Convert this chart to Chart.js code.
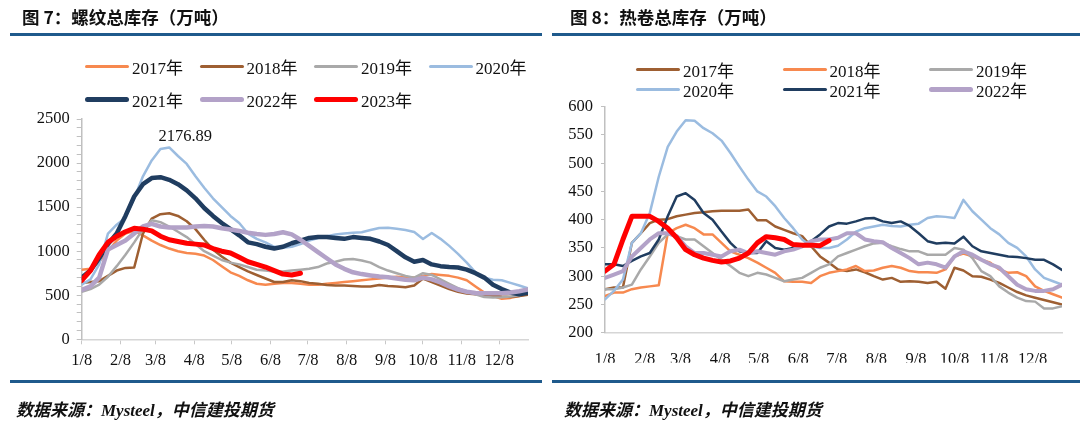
<!DOCTYPE html>
<html>
<head>
<meta charset="utf-8">
<script src="https://cdn.jsdelivr.net/npm/chart.js@4.4.0/dist/chart.umd.min.js"></script>
<style>
  body { margin: 0; background: #fff; }
  #wrap { position: relative; width: 1080px; height: 422px; overflow: hidden;
          font-family: "Liberation Serif", "Noto Sans CJK SC", serif; color: #111; }
  canvas { position: absolute; top: 0; }
  .title { position: absolute; top: 4px; font: bold 17.5px "Noto Sans CJK SC", sans-serif; color: #111; }
  .rule { position: absolute; height: 3px; background: #1f5a8c; }
  .src { position: absolute; top: 396px; font: italic bold 17px "Liberation Serif", "Noto Sans CJK SC", serif; }
  .leg { position: absolute; height: 20px; display: flex; align-items: center; font-size: 17px; white-space: nowrap; }
  .leg i { display: inline-block; width: 44px; border-radius: 3px; margin-right: 3px; }
</style>
</head>
<body>
<div id="wrap">
  <canvas id="rebar" width="540" height="422" style="left:0"></canvas>
  <canvas id="coil" width="540" height="422" style="left:540px"></canvas>
  <div class="title" style="left:22px">图 7：螺纹总库存（万吨）</div>
  <div class="title" style="left:570px">图 8：热卷总库存（万吨）</div>
  <div class="rule" style="left:10px;top:33px;width:532px"></div>
  <div class="rule" style="left:552px;top:33px;width:528px"></div>
  <div class="rule" style="left:10px;top:380px;width:532px"></div>
  <div class="rule" style="left:552px;top:380px;width:528px"></div>
  <div class="src" style="left:16px">数据来源：Mysteel，中信建投期货</div>
  <div class="src" style="left:564px">数据来源：Mysteel，中信建投期货</div>
</div>
<script>
// x axis: days after Jan 8, weekly points; month ticks on the 8th
const tickDays = [0, 31, 59, 90, 120, 151, 181, 212, 243, 273, 304, 334];
const tickLabels = ['1/8', '2/8', '3/8', '4/8', '5/8', '6/8', '7/8', '8/8', '9/8', '10/8', '11/8', '12/8'];
const years = ['2017年', '2018年', '2019年', '2020年', '2021年', '2022年', '2023年'];

// 螺纹总库存 (万吨)
const rebar2017 = [790, 800, 880, 1000, 1120, 1200, 1230, 1180, 1120, 1070, 1030, 1000, 980, 970, 950, 900, 830, 760, 720, 670, 630, 620, 630, 640, 640, 630, 620, 620, 630, 640, 650, 660, 670, 680, 690, 700, 710, 700, 700, 720, 740, 730, 720, 700, 670, 600, 530, 490, 460, 470, 490, 515];
const rebar2018 = [640, 650, 660, 720, 780, 810, 815, 1200, 1370, 1420, 1430, 1400, 1340, 1250, 1130, 1020, 940, 870, 820, 770, 730, 690, 650, 650, 670, 660, 640, 630, 615, 610, 610, 605, 600, 598, 615, 605, 600, 590, 610, 690, 650, 610, 570, 540, 520, 510, 505, 495, 485, 480, 490, 505];
const rebar2019 = [540, 570, 620, 710, 830, 960, 1100, 1250, 1350, 1330, 1280, 1220, 1160, 1080, 1000, 950, 900, 870, 850, 820, 790, 780, 770, 770, 780, 790, 800, 820, 860, 880, 905, 910, 895, 870, 820, 780, 750, 720, 700, 750, 730, 680, 630, 580, 540, 510, 480, 475, 478, 485, 500, 535];
const rebar2020 = [620, 680, 850, 1200, 1300, 1380, 1600, 1850, 2030, 2160, 2176.89, 2080, 1990, 1850, 1720, 1600, 1500, 1400, 1320, 1200, 1140, 1100, 1050, 1040, 1050, 1080, 1120, 1150, 1170, 1190, 1200, 1210, 1215, 1240, 1263, 1265, 1255, 1240, 1218, 1138, 1206, 1140, 1060, 970, 870, 760, 700, 675, 670, 640, 610, 580];
const rebar2021 = [700, 780, 920, 1080, 1200, 1400, 1620, 1760, 1830, 1840, 1810, 1760, 1690, 1600, 1490, 1400, 1320, 1250, 1180, 1100, 1080, 1050, 1030, 1050, 1090, 1120, 1150, 1160, 1160, 1150, 1140, 1160, 1150, 1140, 1110, 1070, 1000, 930, 880, 900, 850, 830, 820, 815, 790, 750, 700, 620, 570, 530, 510, 530];
const rebar2022 = [560, 600, 700, 1020, 1070, 1120, 1200, 1280, 1310, 1280, 1270, 1270, 1270, 1280, 1285, 1280, 1260, 1245, 1230, 1210, 1195, 1185, 1195, 1215, 1190, 1130, 1060, 990, 920, 850, 800, 760, 740, 725, 712, 705, 690, 675, 670, 700, 680, 645, 600, 565, 540, 525, 522, 522, 522, 530, 545, 565];
const rebar2023 = [670, 780, 960, 1100, 1170, 1220, 1260, 1250, 1230, 1170, 1130, 1110, 1090, 1080, 1070, 1030, 1000, 980, 930, 880, 850, 820, 780, 740, 730, 750];

// 热卷总库存 (万吨)
const coil2017 = [277, 280, 280, 359, 376, 394, 400, 401, 406, 409, 412, 413, 415, 416, 416, 416, 418, 399, 399, 388, 382, 376, 371, 353, 335, 324, 312, 309, 312, 307, 300, 294, 297, 290, 291, 290, 288, 290, 278, 315, 310, 300, 299, 294, 288, 280, 272, 266, 262, 258, 254, 250];
const coil2018 = [265, 271, 271, 277, 280, 282, 284, 376, 385, 391, 385, 374, 374, 359, 344, 338, 332, 324, 315, 306, 291, 290, 290, 288, 300, 306, 309, 312, 318, 309, 310, 315, 318, 315, 309, 307, 307, 306, 312, 335, 340, 335, 329, 324, 312, 306, 307, 300, 282, 274, 268, 262];
const coil2019 = [277, 277, 280, 285, 312, 335, 359, 374, 371, 365, 365, 353, 341, 329, 318, 306, 300, 306, 303, 297, 291, 294, 297, 306, 315, 321, 335, 341, 347, 353, 358, 359, 353, 348, 344, 344, 338, 338, 338, 350, 347, 332, 309, 300, 282, 271, 262, 256, 255, 243, 243, 247];
const coil2020 = [259, 274, 294, 359, 376, 412, 476, 529, 556, 576, 575, 562, 553, 540, 518, 494, 471, 450, 441, 424, 403, 385, 365, 353, 350, 350, 354, 365, 379, 385, 388, 391, 389, 388, 391, 393, 403, 406, 405, 403, 435, 415, 400, 385, 374, 359, 350, 335, 312, 297, 291, 285];
const coil2021 = [321, 321, 318, 327, 335, 341, 365, 406, 441, 447, 435, 412, 400, 379, 359, 344, 341, 341, 362, 350, 347, 350, 353, 362, 374, 388, 394, 393, 397, 402, 403, 397, 394, 397, 389, 376, 362, 358, 359, 358, 370, 353, 344, 341, 338, 335, 334, 332, 329, 329, 321, 311];
const coil2022 = [297, 303, 309, 335, 350, 365, 376, 376, 371, 353, 341, 341, 338, 335, 344, 347, 341, 344, 341, 338, 344, 347, 353, 362, 365, 365, 368, 376, 376, 365, 362, 360, 350, 341, 332, 321, 324, 321, 315, 335, 344, 338, 329, 321, 315, 300, 285, 277, 274, 274, 277, 285];
const coil2023 = [309, 321, 365, 406, 406, 406, 397, 385, 368, 347, 338, 332, 328, 325, 327, 332, 341, 359, 370, 368, 365, 356, 355, 355, 354, 363];

const C_ORANGE = '#f7894f', C_BROWN = '#9e5f32', C_GRAY = '#a9a9a9', C_LBLUE = '#9bbce0',
      C_NAVY = '#203d60', C_LILAC = '#b3a2c8', C_RED = '#ff0000';

const FONT = '"Liberation Serif", "Noto Sans CJK SC", serif';

function pts(vals) {
  return vals.map((v, i) => ({ x: i * 7, y: v }));
}

function lineSet(label, vals, color, width, order) {
  return { label, data: pts(vals), borderColor: color, borderWidth: width, order,
           pointRadius: 0, tension: 0, fill: false, borderCapStyle: 'round', borderJoinStyle: 'round' };
}

const peakLabel = {
  id: 'peakLabel',
  afterDatasetsDraw(chart) {
    const idx = chart.data.datasets.findIndex(d => d.label === '2020年');
    const i = rebar2020.indexOf(Math.max(...rebar2020));
    const p = chart.getDatasetMeta(idx).data[i];
    const c = chart.ctx;
    c.save();
    c.font = '16.5px ' + FONT;
    c.fillStyle = '#111';
    c.textAlign = 'center';
    c.textBaseline = 'middle';
    c.fillText(rebar2020[i].toFixed(2), p.x + 16, p.y - 11);
    c.restore();
  }
};

function xAxis(withTicks, pad) {
  return {
    type: 'linear', min: 0, max: 357,
    afterBuildTicks: s => { s.ticks = tickDays.map(v => ({ value: v })); },
    afterFit: s => { s.height = 30; },
    ticks: { autoSkip: false, maxRotation: 0, padding: pad, color: '#111',
             font: { size: 16.5, family: FONT }, callback: (v, i) => tickLabels[i] },
    grid: { display: withTicks, drawOnChartArea: false, tickLength: 5, color: '#c8c8c8' },
    border: { color: '#d6d6d6', width: 1.5 }
  };
}

new Chart(document.getElementById('rebar'), {
  type: 'line',
  data: {
    datasets: [
      lineSet(years[0], rebar2017, C_ORANGE, 2.5, 7),
      lineSet(years[1], rebar2018, C_BROWN, 2.5, 6),
      lineSet(years[2], rebar2019, C_GRAY, 2.5, 5),
      lineSet(years[3], rebar2020, C_LBLUE, 2.5, 4),
      lineSet(years[4], rebar2021, C_NAVY, 4.5, 3),
      lineSet(years[5], rebar2022, C_LILAC, 4.5, 2),
      lineSet(years[6], rebar2023, C_RED, 5, 1)
    ]
  },
  options: {
    responsive: false, animation: false,
    layout: { padding: { left: 0, right: 12, top: 119, bottom: 52.7 } },
    plugins: { legend: { display: false }, tooltip: { enabled: false } },
    scales: {
      x: xAxis(true, 6),
      y: {
        min: 0, max: 2500,
        afterFit: s => { s.width = 81.7; },
        ticks: { stepSize: 100, maxTicksLimit: 30, autoSkip: false, padding: 7, color: '#111',
                 font: { size: 16.5, family: FONT }, callback: v => (v % 500 === 0 ? v : '') },
        grid: { drawOnChartArea: false, tickLength: 5, color: '#c0c0c0' },
        border: { color: '#c0c0c0', width: 1.5 }
      }
    }
  },
  plugins: [peakLabel]
});

new Chart(document.getElementById('coil'), {
  type: 'line',
  data: {
    datasets: [
      lineSet(years[0], coil2017, C_BROWN, 2.5, 7),
      lineSet(years[1], coil2018, C_ORANGE, 2.5, 6),
      lineSet(years[2], coil2019, C_GRAY, 2.5, 5),
      lineSet(years[3], coil2020, C_LBLUE, 2.5, 4),
      lineSet(years[4], coil2021, C_NAVY, 2.5, 3),
      lineSet(years[5], coil2022, C_LILAC, 4, 2),
      lineSet(years[6], coil2023, C_RED, 5, 1)
    ]
  },
  options: {
    responsive: false, animation: false,
    layout: { padding: { left: 0, right: 18, top: 106.7, bottom: 59.3 } },
    plugins: { legend: { display: false }, tooltip: { enabled: false } },
    scales: {
      x: xAxis(false, 12),
      y: {
        min: 200, max: 600,
        afterFit: s => { s.width = 65; },
        ticks: { stepSize: 50, autoSkip: false, padding: 8, color: '#111',
                 font: { size: 16.5, family: FONT } },
        grid: { drawOnChartArea: false, tickLength: 4, color: '#c0c0c0' },
        border: { color: '#c0c0c0', width: 1.5 }
      }
    }
  }
});

// legends built from the same series definitions
function legend(items, x0, y0, dx, dy, perRow) {
  const wrap = document.getElementById('wrap');
  items.forEach((it, k) => {
    const d = document.createElement('div');
    d.className = 'leg';
    d.style.left = (x0 + (k % perRow) * dx) + 'px';
    d.style.top = (y0 + Math.floor(k / perRow) * dy - 10) + 'px';
    d.innerHTML = '<i style="height:' + it[2] + 'px;background:' + it[1] + '"></i>' + it[0];
    wrap.appendChild(d);
  });
}
legend([[years[0], C_ORANGE, 3], [years[1], C_BROWN, 3], [years[2], C_GRAY, 3], [years[3], C_LBLUE, 3],
        [years[4], C_NAVY, 5], [years[5], C_LILAC, 5], [years[6], C_RED, 5]], 85, 66, 114.5, 33, 4);
legend([[years[0], C_BROWN, 3], [years[1], C_ORANGE, 3], [years[2], C_GRAY, 3],
        [years[3], C_LBLUE, 3], [years[4], C_NAVY, 3], [years[5], C_LILAC, 5]], 636, 69, 146.5, 20, 3);
</script>
</body>
</html>
